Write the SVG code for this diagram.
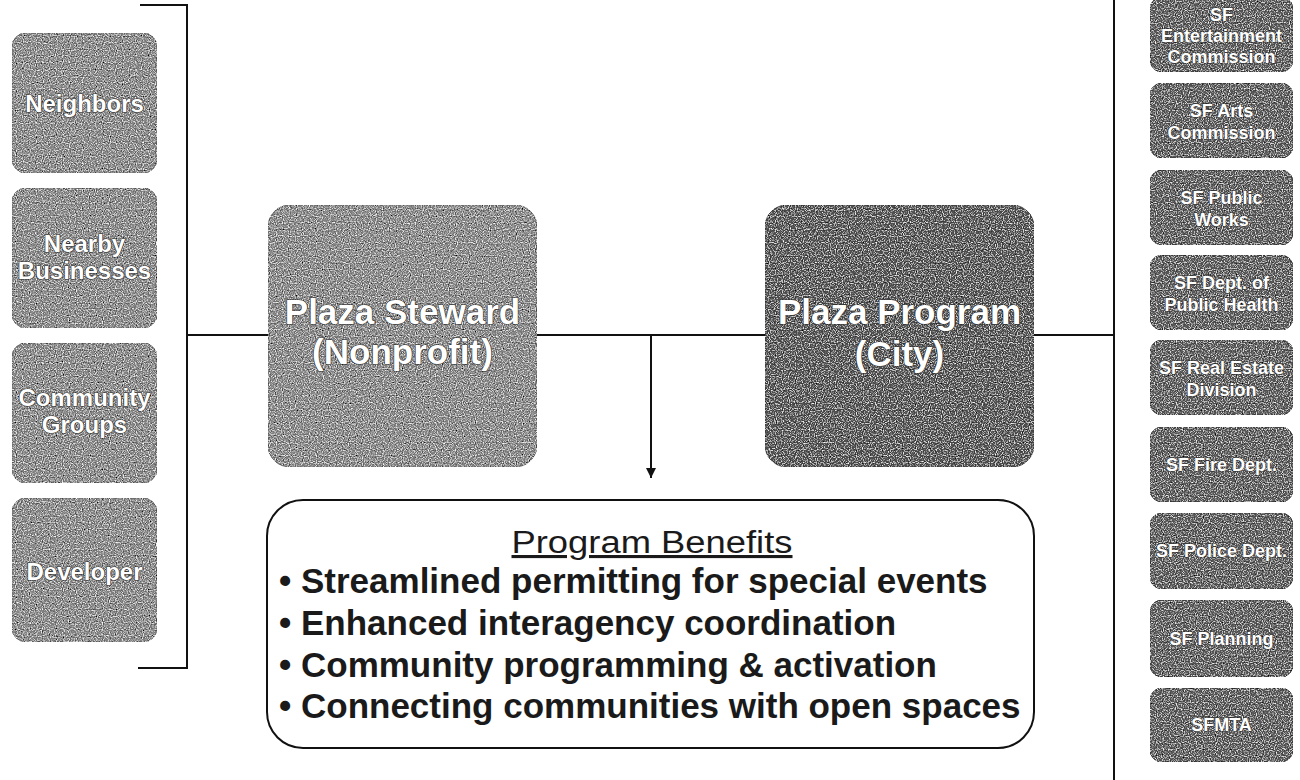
<svg xmlns="http://www.w3.org/2000/svg" width="1300" height="780" viewBox="0 0 1300 780">
<style>
.lbox{fill:#8b8b8b;stroke:#6a6a6a;stroke-width:1}
.dbox{fill:#555555;stroke:#3a3a3a;stroke-width:1}
.rbox{fill:#5d5d5d;stroke:#3c3c3c;stroke-width:1}
.wt{font-family:"Liberation Sans",Arial,sans-serif;font-weight:bold;fill:#ffffff;stroke:#2a2a2a;stroke-width:1.2;paint-order:stroke;text-anchor:middle}
.l{font-size:24px}
.c{font-size:35px}
.r{font-size:18px;stroke-width:0.8}
.conn{fill:none;stroke:#111;stroke-width:2}
.bt{font-family:"Liberation Sans",Arial,sans-serif;fill:#1a1a1a}
</style>
<defs>
<filter id="grain" x="0" y="0" width="100%" height="100%">
<feTurbulence type="fractalNoise" baseFrequency="0.85" numOctaves="1" seed="4" result="noise"/>
<feColorMatrix in="noise" type="saturate" values="0" result="g"/>
<feComponentTransfer in="g" result="gc"><feFuncR type="linear" slope="2.2" intercept="-0.6"/><feFuncG type="linear" slope="2.2" intercept="-0.6"/><feFuncB type="linear" slope="2.2" intercept="-0.6"/><feFuncA type="linear" slope="0" intercept="1"/></feComponentTransfer>
<feComposite in="gc" in2="SourceGraphic" operator="in" result="gm"/>
<feBlend in="SourceGraphic" in2="gm" mode="overlay"/>
</filter>
<marker id="arr" viewBox="0 0 10 10" refX="10" refY="5" markerWidth="10" markerHeight="10" markerUnits="userSpaceOnUse" orient="auto">
<path d="M0,0 L10,5 L0,10 Z" fill="#111"/>
</marker>
</defs>

<g id="connectors">
<path class="conn" d="M140,5 H187 V668 H138" stroke-width="3"/>
<path class="conn" d="M187,335 H268"/>
<path class="conn" d="M537,335 H765"/>
<path class="conn" d="M1034,335 H1114"/>
<path class="conn" d="M1114,0 V780"/>
<path class="conn" d="M651,335 V478" marker-end="url(#arr)"/>
</g>

<g id="neighbors">
<rect class="lbox" x="12" y="33" width="145" height="140" rx="14" filter="url(#grain)"/>
<text class="wt l" x="84.5" y="112">Neighbors</text>
</g>
<g id="nearby-businesses">
<rect class="lbox" x="12" y="188" width="145" height="140" rx="14" filter="url(#grain)"/>
<text class="wt l" x="84.5" y="252">Nearby</text>
<text class="wt l" x="84.5" y="279">Businesses</text>
</g>
<g id="community-groups">
<rect class="lbox" x="12" y="343" width="145" height="140" rx="14" filter="url(#grain)"/>
<text class="wt l" x="84.5" y="406">Community</text>
<text class="wt l" x="84.5" y="433">Groups</text>
</g>
<g id="developer">
<rect class="lbox" x="12" y="498" width="145" height="144" rx="14" filter="url(#grain)"/>
<text class="wt l" x="84.5" y="580">Developer</text>
</g>

<g id="plaza-steward">
<rect class="lbox" x="268" y="205" width="269" height="262" rx="22" filter="url(#grain)"/>
<text class="wt c" x="402.5" y="324">Plaza Steward</text>
<text class="wt c" x="402.5" y="364">(Nonprofit)</text>
</g>
<g id="plaza-program">
<rect class="dbox" x="765" y="205" width="269" height="262" rx="22" filter="url(#grain)"/>
<text class="wt c" x="899.5" y="324">Plaza Program</text>
<text class="wt c" x="899.5" y="366">(City)</text>
</g>

<g id="program-benefits">
<rect x="267" y="500" width="767" height="248" rx="36" fill="#fff" stroke="#111" stroke-width="2"/>
<text class="bt" x="652" y="553" font-size="31" text-anchor="middle" text-decoration="underline" textLength="281" lengthAdjust="spacingAndGlyphs">Program Benefits</text>
<text class="bt" x="279" y="593" font-size="35" font-weight="bold">• Streamlined permitting for special events</text>
<text class="bt" x="279" y="635" font-size="35" font-weight="bold">• Enhanced interagency coordination</text>
<text class="bt" x="279" y="677" font-size="35" font-weight="bold">• Community programming &amp; activation</text>
<text class="bt" x="279" y="718" font-size="35" font-weight="bold">• Connecting communities with open spaces</text>
</g>

<g id="sf-entertainment">
<rect class="rbox" x="1150" y="-3" width="143" height="75" rx="12" filter="url(#grain)"/>
<text class="wt r" x="1221.5" y="21">SF</text>
<text class="wt r" x="1221.5" y="42">Entertainment</text>
<text class="wt r" x="1221.5" y="63">Commission</text>
</g>
<g id="sf-arts">
<rect class="rbox" x="1150" y="83" width="143" height="75" rx="12" filter="url(#grain)"/>
<text class="wt r" x="1221.5" y="117">SF Arts</text>
<text class="wt r" x="1221.5" y="139">Commission</text>
</g>
<g id="sf-public-works">
<rect class="rbox" x="1150" y="170" width="143" height="75" rx="12" filter="url(#grain)"/>
<text class="wt r" x="1221.5" y="204">SF Public</text>
<text class="wt r" x="1221.5" y="226">Works</text>
</g>
<g id="sf-public-health">
<rect class="rbox" x="1150" y="255" width="143" height="75" rx="12" filter="url(#grain)"/>
<text class="wt r" x="1221.5" y="289">SF Dept. of</text>
<text class="wt r" x="1221.5" y="311">Public Health</text>
</g>
<g id="sf-real-estate">
<rect class="rbox" x="1150" y="340" width="143" height="75" rx="12" filter="url(#grain)"/>
<text class="wt r" x="1221.5" y="374">SF Real Estate</text>
<text class="wt r" x="1221.5" y="396">Division</text>
</g>
<g id="sf-fire">
<rect class="rbox" x="1150" y="427" width="143" height="75" rx="12" filter="url(#grain)"/>
<text class="wt r" x="1221.5" y="471">SF Fire Dept.</text>
</g>
<g id="sf-police">
<rect class="rbox" x="1150" y="513" width="143" height="76" rx="12" filter="url(#grain)"/>
<text class="wt r" x="1221.5" y="557">SF Police Dept.</text>
</g>
<g id="sf-planning">
<rect class="rbox" x="1150" y="600" width="143" height="77" rx="12" filter="url(#grain)"/>
<text class="wt r" x="1221.5" y="645">SF Planning</text>
</g>
<g id="sfmta">
<rect class="rbox" x="1150" y="688" width="143" height="74" rx="12" filter="url(#grain)"/>
<text class="wt r" x="1221.5" y="731">SFMTA</text>
</g>
</svg>
